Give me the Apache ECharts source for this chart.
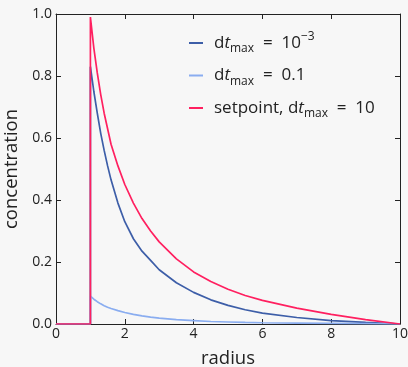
<!DOCTYPE html>
<html>
<head>
<meta charset="utf-8">
<script src="https://cdn.jsdelivr.net/npm/echarts@6/dist/echarts.min.js"></script>
<style>
  html, body { margin: 0; padding: 0; background: #f7f7f7; }
  #chart { width: 408px; height: 367px; }
</style>
</head>
<body>
<div id="chart"></div>
<script>
// radius samples (x) and concentration values
const radius = [0, 1, 1, 1.1, 1.2, 1.3, 1.4, 1.5, 1.6, 1.8, 2, 2.25, 2.5, 2.75, 3, 3.5, 4, 4.5, 5, 5.5, 6, 7, 8, 9, 10];
const fineDt = [0, 0, 0.83, 0.75, 0.68, 0.615, 0.56, 0.51, 0.465, 0.39, 0.33, 0.275, 0.235, 0.205, 0.175, 0.133, 0.102, 0.078, 0.06, 0.046, 0.035, 0.021, 0.011, 0.005, 0];
const coarseDt = [0, 0, 0.09, 0.08, 0.072, 0.065, 0.059, 0.054, 0.05, 0.043, 0.037, 0.031, 0.026, 0.022, 0.019, 0.014, 0.011, 0.008, 0.0065, 0.005, 0.004, 0.003, 0.002, 0.001, 0];
const setpoint = [0, 0, 0.99, 0.89, 0.81, 0.74, 0.68, 0.63, 0.58, 0.51, 0.45, 0.39, 0.34, 0.30, 0.265, 0.21, 0.168, 0.137, 0.112, 0.092, 0.076, 0.051, 0.031, 0.014, 0];

const seriesNames = ['fine', 'coarse', 'setpoint'];
const colors = ['#3d5ea8', '#8aadf0', '#ff2060'];

function pairs(vals) {
    return radius.map((r, i) => [r, vals[i]]);
}

const font = 'Open Sans';
const axisColor = '#222';

const chart = echarts.init(document.getElementById('chart'));

const tickOpts = {
    show: true,
    inside: true,
    length: 5,
    lineStyle: { color: axisColor, width: 1 },
};
const lineOpts = { show: true, onZero: false, lineStyle: { color: axisColor, width: 1 } };

const option = {
    backgroundColor: '#f7f7f7',
    animation: false,
    grid: { left: 56, right: 8, top: 14, bottom: 43, outerBoundsMode: 'none', containLabel: false },
    legend: {
        data: seriesNames,
        orient: 'vertical',
        left: 184,
        top: 26,
        itemWidth: 14,
        itemHeight: 2,
        itemGap: 12,
        icon: 'rect',
        formatter: function (name) {
            if (name === 'fine') return '{m|d}{i|t}{s|max}{m|  =  10}{p|−3}';
            if (name === 'coarse') return '{m|d}{i|t}{s|max}{m|  =  0.1}';
            return '{m|setpoint, d}{i|t}{s|max}{m|  =  10}';
        },
        textStyle: {
            fontFamily: font,
            color: axisColor,
            padding: [0, 0, 0, 6],
            rich: {
                m: { fontFamily: font, fontSize: 17, color: axisColor, lineHeight: 24, verticalAlign: 'middle' },
                i: { fontFamily: font, fontSize: 17, fontStyle: 'italic', color: axisColor, lineHeight: 24, verticalAlign: 'middle' },
                s: { fontFamily: font, fontSize: 12, color: axisColor, lineHeight: 24, verticalAlign: 'bottom' },
                p: { fontFamily: font, fontSize: 12, color: axisColor, lineHeight: 24, verticalAlign: 'top' },
            },
        },
    },
    xAxis: [
        {
            type: 'value',
            min: 0,
            max: 10,
            interval: 2,
            name: 'radius',
            nameLocation: 'middle',
            nameGap: 25,
            nameTextStyle: { fontFamily: font, fontSize: 18.5, color: axisColor },
            axisLine: lineOpts,
            axisTick: tickOpts,
            axisLabel: { fontFamily: font, fontSize: 14, color: axisColor, margin: 3 },
            splitLine: { show: false },
        },
        {
            type: 'value',
            position: 'top',
            min: 0,
            max: 10,
            interval: 2,
            axisLine: lineOpts,
            axisTick: tickOpts,
            axisLabel: { show: false },
            splitLine: { show: false },
        },
    ],
    yAxis: [
        {
            type: 'value',
            min: 0,
            max: 1,
            interval: 0.2,
            name: 'concentration',
            nameLocation: 'middle',
            nameGap: 33,
            nameTextStyle: { fontFamily: font, fontSize: 18.5, color: axisColor },
            axisLine: lineOpts,
            axisTick: tickOpts,
            axisLabel: {
                fontFamily: font,
                fontSize: 14,
                color: axisColor,
                margin: 4,
                formatter: (v) => v.toFixed(1),
            },
            splitLine: { show: false },
        },
        {
            type: 'value',
            position: 'right',
            min: 0,
            max: 1,
            interval: 0.2,
            axisLine: lineOpts,
            axisTick: tickOpts,
            axisLabel: { show: false },
            splitLine: { show: false },
        },
    ],
    series: [
        {
            name: 'fine',
            type: 'line',
            data: pairs(fineDt),
            symbol: 'none',
            lineStyle: { color: colors[0], width: 1.7 },
            itemStyle: { color: colors[0] },
        },
        {
            name: 'coarse',
            type: 'line',
            data: pairs(coarseDt),
            symbol: 'none',
            lineStyle: { color: colors[1], width: 1.7 },
            itemStyle: { color: colors[1] },
        },
        {
            name: 'setpoint',
            type: 'line',
            data: pairs(setpoint),
            symbol: 'none',
            lineStyle: { color: colors[2], width: 1.7 },
            itemStyle: { color: colors[2] },
        },
    ],
};

chart.setOption(option);
</script>
</body>
</html>
